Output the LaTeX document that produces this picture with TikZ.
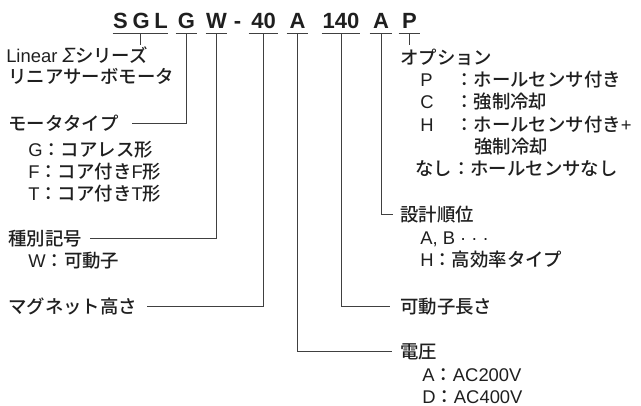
\documentclass[tikz,border=0pt]{standalone}
\usepackage{fontspec}
\setmainfont{Noto Sans CJK JP}[UprightFont=* Medium]
\newfontfamily\lat{Liberation Sans}
\usetikzlibrary{calc}

\begin{document}
\begin{tikzpicture}[
    x=0.75pt, y=-0.75pt,
    codepart/.style={font=\lat\bfseries\fontsize{16.5}{18}\selectfont, text=black!88,
      anchor=base, inner sep=0pt, text depth=3.75pt},
    jtext/.style={font=\fontsize{13.8}{16}\selectfont, text=black!88,
      anchor=base west, inner sep=0pt},
    lead/.style={draw=black!75, line width=0.7pt}
  ]
  \useasboundingbox (0,0) rectangle (641,405);

  % --- Model code, one node per part ---
  \node[codepart, minimum width=41.25pt] (sgl)  at (140.5,28) {S\kern3.5pt G\kern3.5pt L};
  \node[codepart, minimum width=15.75pt] (g)    at (186.5,28) {G};
  \node[codepart, minimum width=15.75pt] (w)    at (216.5,28) {W};
  \node[codepart]                        (dash) at (237.5,28) {-};
  \node[codepart, minimum width=21.75pt] (mag)  at (263.5,28) {40};
  \node[codepart, minimum width=15.75pt] (volt) at (297.5,28) {A};
  \node[codepart, minimum width=28.5pt]  (len)  at (341,28)   {140};
  \node[codepart, minimum width=16.5pt]  (rev)  at (381,28)   {A};
  \node[codepart, minimum width=15.75pt] (opt)  at (409.5,28) {P};
  \foreach \n in {sgl,g,w,mag,volt,len,rev,opt} {
    \draw[lead] (\n.south west) -- (\n.south east);
  }

  % --- Left side labels ---
  \node[jtext] (series)  at (6,62) {{\lat Linear\kern4pt{\itshape\fontsize{15.5}{16}\selectfont Σ}}シリーズ};
  \node[jtext] (series2) at (8,83) {リニアサーボモータ};
  \coordinate (seriestop) at (142,45);
  \draw[lead] (sgl.south) -- (sgl.south |- seriestop);

  \node[jtext] (mtype)  at (8,130)  {モータタイプ};
  \node[jtext] (mtypeg) at (28,156) {{\lat G}：コアレス形};
  \node[jtext] (mtypef) at (28,178) {{\lat F}：コア付き{\lat F}形};
  \node[jtext] (mtypet) at (28,200) {{\lat T}：コア付き{\lat T}形};
  \draw[lead] (g.south) |- ($(mtype.base east)+(13,-7)$);

  \node[jtext] (kind)  at (8,245)  {種別記号};
  \node[jtext] (kindw) at (28,267) {{\lat W}：可動子};
  \draw[lead] (w.south) |- ($(kind.base east)+(8,-7)$);

  \node[jtext] (magh) at (8,313) {マグネット高さ};
  \draw[lead] (mag.south) |- ($(magh.base east)+(10,-7)$);

  % --- Right side labels ---
  \node[jtext] (option) at (400,64) {オプション};
  \coordinate (opttop) at (408,45);
  \draw[lead] (opt.south) -- (opt.south |- opttop);
  \node[jtext] (optp)   at (420,86)  {{\lat P}};
  \node[jtext] (optpd)  at (455,86)  {：ホールセンサ付き};
  \node[jtext] (optc)   at (420,108) {{\lat C}};
  \node[jtext] (optcd)  at (455,108) {：強制冷却};
  \node[jtext] (opth)   at (420,131) {{\lat H}};
  \node[jtext] (opthd)  at (455,131) {：ホールセンサ付き{\lat +}};
  \node[jtext] (opthd2) at (474,153) {強制冷却};
  \node[jtext] (optn)   at (415,175) {なし：ホールセンサなし};

  \node[jtext] (design)  at (400,221) {設計順位};
  \node[jtext] (designa) at (420,244) {{\lat A, B · · ·}};
  \node[jtext] (designh) at (420,266) {{\lat H}：高効率タイプ};
  \draw[lead] (rev.south) |- ($(design.base west)+(-7,-7)$);

  \node[jtext] (mlen) at (400,313) {可動子長さ};
  \draw[lead] (len.south) |- ($(mlen.base west)+(-10,-7)$);

  \node[jtext] (voltage)  at (400,358) {電圧};
  \node[jtext] (voltagea) at (422,381) {{\lat A}：{\lat AC200V}};
  \node[jtext] (voltaged) at (422,403) {{\lat D}：{\lat AC400V}};
  \draw[lead] (volt.south) |- ($(voltage.base west)+(-8,-7)$);
\end{tikzpicture}
\end{document}
